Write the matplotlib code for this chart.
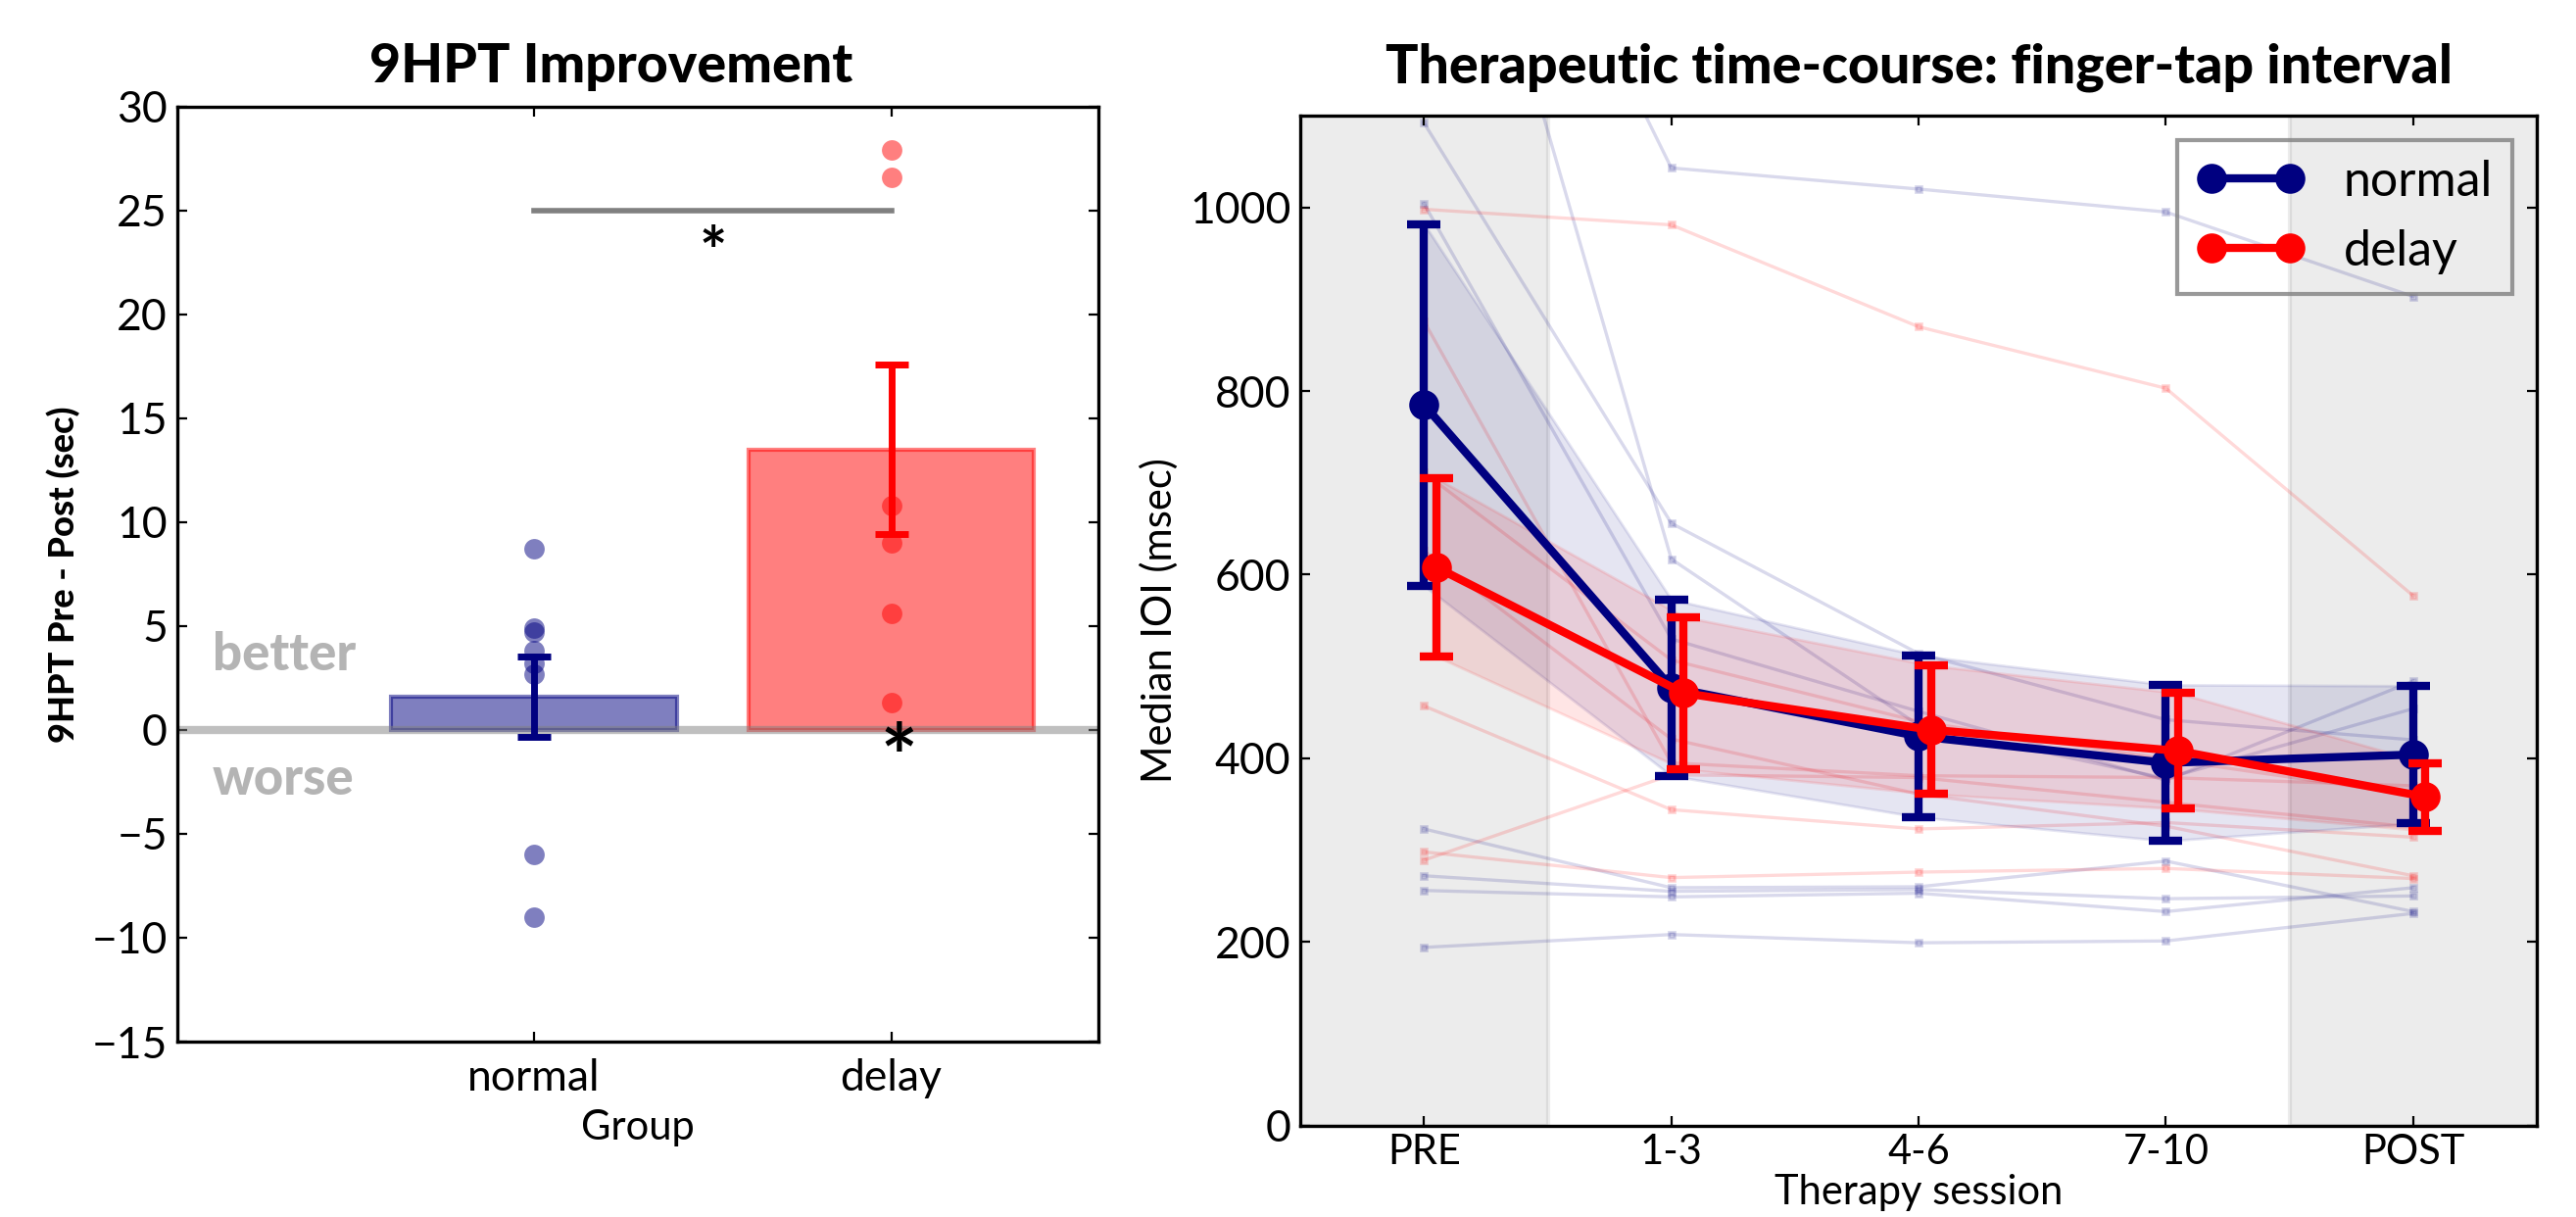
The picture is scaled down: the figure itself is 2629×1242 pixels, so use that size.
import numpy as np
import matplotlib
matplotlib.use("Agg")
import matplotlib.pyplot as plt

# ---- left panel: 9HPT improvement ----
groups = ["normal", "delay"]
imp_mean = [1.6, 13.5]
imp_sem = [1.95, 4.1]
normal_pts = [8.7, 4.9, 4.7, 3.8, 3.2, 2.7, -6.0, -9.0]
delay_pts = [27.9, 26.6, 10.8, 9.0, 5.6, 1.3]

# ---- right panel: tap interval over sessions ----
sessions = ["PRE", "1-3", "4-6", "7-10", "POST"]
normal_mean = [785, 477, 424, 395, 404]
normal_sem = [197, 96, 88, 85, 75]
delay_mean = [608, 471, 431, 408, 358]
delay_sem = [97, 83, 70, 63, 37]

normal_subj = [
    [1550, 617, 436, 378, 454],
    [1590, 1043, 1020, 995, 903],
    [1092, 656, 514, 442, 420],
    [1004, 530, 451, 376, 484],
    [323, 259, 260, 288, 233],
    [272, 255, 257, 247, 250],
    [256, 249, 253, 233, 259],
    [194, 208, 199, 201, 231],
]
delay_subj = [
    [998, 981, 870, 803, 577],
    [876, 395, 381, 379, 370],
    [711, 507, 440, 399, 360],
    [626, 421, 361, 326, 272],
    [457, 344, 323, 330, 314],
    [298, 270, 276, 280, 269],
    [289, 382, 379, 352, 325],
]

plt.rcParams['font.family'] = ['Lato', 'DejaVu Sans']
plt.rcParams['xtick.direction'] = 'in'
plt.rcParams['ytick.direction'] = 'in'
plt.rcParams['xtick.top'] = True
plt.rcParams['ytick.right'] = True
plt.rcParams['xtick.major.size'] = 3.5
plt.rcParams['ytick.major.size'] = 3.5
plt.rcParams['axes.linewidth'] = 1.2
plt.rcParams['xtick.labelsize'] = 16
plt.rcParams['ytick.labelsize'] = 16


def main():
    fig = plt.figure(figsize=(13.145, 6.21), dpi=200)

    # left
    ax1 = fig.add_axes([0.0687, 0.1441, 0.3577, 0.7685])
    xg = np.arange(len(groups))
    ax1.bar(xg, imp_mean, width=0.8,
            color=[(0, 0, 0.5, 0.5), (1, 0, 0, 0.5)],
            edgecolor=[(0, 0, 0.5, 0.5), (1, 0, 0, 0.5)],
            linewidth=1.5, zorder=1)
    ax1.axhline(0, color=(0.5, 0.5, 0.5, 0.5), lw=3, zorder=2)
    ax1.plot(np.zeros(len(normal_pts)), normal_pts, 'o', color='navy',
             alpha=0.5, ms=7.5, mec='none', zorder=3)
    ax1.plot(np.ones(len(delay_pts)), delay_pts, 'o', color='red',
             alpha=0.5, ms=7.5, mec='none', zorder=3)
    ax1.errorbar([0], [imp_mean[0]], yerr=[imp_sem[0]], fmt='none',
                 ecolor='navy', elinewidth=2.5, capsize=6, capthick=2.5, zorder=4)
    ax1.errorbar([1], [imp_mean[1]], yerr=[imp_sem[1]], fmt='none',
                 ecolor='red', elinewidth=2.5, capsize=6, capthick=2.5, zorder=4)
    ax1.plot([0, 1], [25, 25], color='gray', lw=2)
    ax1.text(0.5, 22.8, '*', ha='center', va='center', fontsize=24,
             fontweight='bold')
    ax1.text(1.02, -1.6, '*', ha='center', va='center', fontsize=32,
             fontweight='bold')
    ax1.text(-0.9, 3.6, 'better', color='#b4b4b4', fontweight='black',
             fontsize=19, va='center')
    ax1.text(-0.9, -2.4, 'worse', color='#b4b4b4', fontweight='black',
             fontsize=19, va='center')
    ax1.set_xlim(-1, 1.58)
    ax1.set_ylim(-15, 30)
    ax1.set_yticks(np.arange(-15, 31, 5))
    ax1.set_xticks(xg)
    ax1.set_xticklabels(groups)
    ax1.tick_params(axis='x', pad=6)
    ax1.set_xlabel('Group', fontsize=15, labelpad=4)
    ax1.set_ylabel('9HPT Pre - Post (sec)', fontweight='black', fontsize=13)
    ax1.set_title('9HPT Improvement', fontweight='black', fontsize=20,
                  x=0.4715, pad=9)

    # right
    ax2 = fig.add_axes([0.5048, 0.0752, 0.4800, 0.8298])
    xs = np.arange(len(sessions))
    xd = xs + 0.05
    for lo, hi in [(-0.5, 0.5), (3.5, 4.5)]:
        ax2.axvspan(lo, hi, facecolor=(0.5, 0.5, 0.5, 0.15),
                    edgecolor=(0.5, 0.5, 0.5, 0.15), lw=1.5, zorder=0)
    for s in normal_subj:
        ax2.plot(xs, s, 's-', color='navy', alpha=0.15, lw=1.2, ms=2.5, zorder=1)
    for s in delay_subj:
        ax2.plot(xs, s, 's-', color='red', alpha=0.15, lw=1.2, ms=2.5, zorder=1)

    nm = np.array(normal_mean)
    ns = np.array(normal_sem)
    dm = np.array(delay_mean)
    ds = np.array(delay_sem)
    ax2.fill_between(xs, nm - ns, nm + ns, color='navy', alpha=0.1, lw=1, zorder=2)
    ax2.fill_between(xd, dm - ds, dm + ds, color='red', alpha=0.1, lw=1, zorder=2)

    ax2.errorbar(xs, nm, yerr=ns, fmt='none', ecolor='navy', elinewidth=3,
                 capsize=6, capthick=3, zorder=4)
    ax2.errorbar(xd, dm, yerr=ds, fmt='none', ecolor='red', elinewidth=3,
                 capsize=6, capthick=3, zorder=5)
    ax2.plot(xs, nm, 'o-', color='navy', lw=3, ms=10, label='normal', zorder=4)
    ax2.plot(xd, dm, 'o-', color='red', lw=3, ms=10, label='delay', zorder=5)

    ax2.set_xlim(-0.5, 4.5)
    ax2.set_ylim(0, 1100)
    ax2.set_yticks(np.arange(0, 1001, 200))
    ax2.set_xticks(xs)
    ax2.set_xticklabels(sessions)
    ax2.tick_params(axis='x', pad=3, labelsize=15)
    ax2.set_xlabel('Therapy session', fontsize=15, labelpad=1)
    ax2.set_ylabel('Median IOI (msec)', fontsize=15)
    ax2.set_title('Therapeutic time-course: finger-tap interval',
                  fontweight='black', fontsize=20, pad=12)
    leg = ax2.legend(loc='upper right', numpoints=2, fontsize=18,
                     handlelength=2.2, fancybox=False)
    leg.get_frame().set_facecolor('none')
    leg.get_frame().set_edgecolor((0.5, 0.5, 0.5, 0.4))
    leg.get_frame().set_linewidth(1.5)

    fig.savefig('out.png', dpi=200)


if __name__ == "__main__":
    main()
